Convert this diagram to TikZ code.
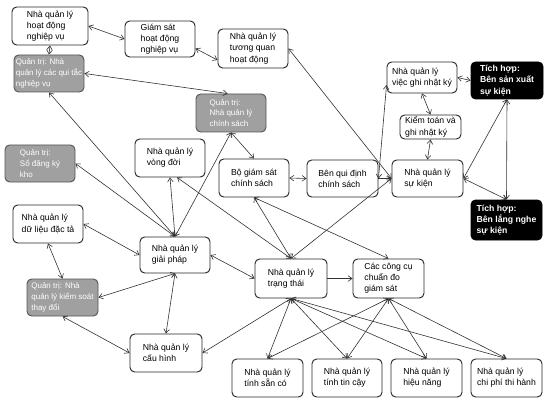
\documentclass[tikz,border=0pt]{standalone}
\usepackage{fontspec}
\setmainfont{Liberation Sans}
\usetikzlibrary{arrows.meta}
\definecolor{boxgray}{RGB}{160,160,160}
\definecolor{edgegray}{RGB}{85,85,85}
\newcommand\mybox[7]{%
  \node[#6, minimum width={(#4-#2)*0.75pt}, minimum height={(#5-#3)*0.75pt}]
    (#1) at ({(#2+#4)/2},{(#3+#5)/2}) {#7};}
\tikzset{
  base/.style={rounded corners=3.5pt, align=left, inner sep=1pt,
    font=\fontsize{6.5}{8.4}\selectfont},
  wbox/.style={base, draw=black!85, line width=0.7pt, fill=white},
  gbox/.style={base, draw=edgegray, line width=0.7pt, fill=boxgray, text=white,
    font=\fontsize{6}{8.2}\selectfont},
  kbox/.style={base, draw=black, line width=0.7pt, fill=black, text=white,
    font=\bfseries\fontsize{6.5}{8.4}\selectfont},
  tip/.tip={Straight Barb[length=3pt,width=4.2pt]},
  conn/.style={line width=0.45pt, draw=black!80, tip-tip},
  one/.style={line width=0.45pt, draw=black!80, -tip},
}
\begin{document}
\begin{tikzpicture}[x=0.75pt,y=-0.75pt]
\fill[white] (0,0) rectangle (549,406);
\useasboundingbox (0,0) rectangle (549,406);

\mybox{A}{12}{7}{88}{45}{wbox}{Nhà quản lý\\hoạt động\\nghiệp vụ}
\mybox{B}{125}{21}{195}{57}{wbox}{Giám sát\\hoạt động\\nghiệp vụ}
\mybox{C}{218}{29}{288}{68}{wbox}{Nhà quản lý\\tương quan\\hoạt động}
\mybox{G1}{14}{55}{84}{92}{gbox}{Quản trị: Nhà\\quản lý các qui tắc\\nghiệp vụ}
\mybox{G2}{196}{94}{266}{132}{gbox}{Quản trị:\\Nhà quản lý\\chính sách}
\mybox{G3}{5}{145}{75}{182}{gbox}{Quản trị:\\Sổ đăng ký\\kho}
\mybox{N}{135}{139}{205}{177}{wbox}{Nhà quản lý\\vòng đời}
\mybox{Bo}{219}{159}{289}{197}{wbox}{Bộ giám sát\\chính sách}
\mybox{Ben}{307}{160}{378}{197}{wbox}{Bên qui định\\chính sách}
\mybox{SK}{392}{160}{463}{197}{wbox}{Nhà quản lý\\sự kiện}
\mybox{GN}{387}{62}{457}{93}{wbox}{Nhà quản lý\\việc ghi nhật ký}
\mybox{KT}{400}{115}{461}{139}{wbox}{Kiểm toán và\\ghi nhật ký}
\mybox{TP}{471}{62}{543}{99}{kbox}{Tích hợp:\\Bên sản xuất\\sự kiện}
\mybox{TL}{471}{200}{542}{240}{kbox}{Tích hợp:\\Bên lắng nghe\\sự kiện}
\mybox{DL}{13}{205}{83}{243}{wbox}{Nhà quản lý\\dữ liệu đặc tả}
\mybox{GP}{140}{237}{210}{273}{wbox}{Nhà quản lý\\giải pháp}
\mybox{G4}{27}{279}{98}{316}{gbox}{Quản trị: Nhà\\quản lý kiểm soát\\thay đổi}
\mybox{TT}{255}{259}{327}{298}{wbox}{Nhà quản lý\\trạng thái}
\mybox{CC}{353}{259}{424}{298}{wbox}{Các công cụ\\chuẩn đo\\giám sát}
\mybox{CH}{130}{334}{202}{372}{wbox}{Nhà quản lý\\cấu hình}
\mybox{S1}{232}{359}{303}{397}{wbox}{Nhà quản lý\\tính sẵn có}
\mybox{S2}{312}{359}{382}{397}{wbox}{Nhà quản lý\\tính tin cậy}
\mybox{S3}{391}{359}{462}{397}{wbox}{Nhà quản lý\\hiệu năng}
\mybox{S4}{471}{359}{542}{397}{wbox}{Nhà quản lý\\chi phí thi hành}

\draw[conn] (A.east) -- (B.west);
\draw[conn] (B.-15) -- (C.198);
\draw[conn] (A.south) -- (G1.north);
\draw[conn] (G1.east) -- (G2.100);
\draw[conn] (G1.south) -- (GP.north);
\draw[conn] (G3.east) -- (GP.north);
\draw[conn] (N.south) -- (GP.north);
\draw[conn] (G2.south) -- (GP.north);
\draw[conn] (G2.south) -- (Bo.north);
\draw[conn] (Bo.east) -- (Ben.west);
\draw[conn] (C.east) -- (SK.west);
\draw[conn] (GN.192) -- (Ben.east);
\draw[one] (Ben.east) -- (SK.west);
\draw[conn] (GN.east) -- (TP.west);
\draw[conn] (GN.south) -- (KT.north);
\draw[conn] (KT.south) -- (SK.north);
\draw[conn] (SK.east) -- (TP.south);
\draw[conn] (TP.south) -- (TL.north);
\draw[conn] (SK.east) -- (TL.north);
\draw[conn] (DL.east) -- (GP.west);
\draw[conn] (DL.south) -- (G4.north);
\draw[conn] (G4.east) -- (GP.south);
\draw[conn] (G4.south) -- (CH.west);
\draw[conn] (GP.south) -- (CH.north);
\draw[conn] (GP.east) -- (TT.west);
\draw[one] (TT.east) -- (CC.west);
\draw[conn] (Bo.south) -- (TT.north);
\draw[conn] (Bo.south) -- (CC.north);
\draw[conn] (N.-70) -- (TT.north);
\draw[conn] (TT.north) -- (SK.west);
\draw[conn] (TT.south) -- (CH.east);
\draw[conn] (TT.south) -- (S1.north);
\draw[conn] (TT.south) -- (S2.north);
\draw[conn] (TT.south) -- (S3.north);
\draw[conn] (TT.south) -- (S4.north);
\draw[conn] (CC.south) -- (S1.north);
\draw[conn] (CC.south) -- (S2.north);
\draw[conn] (CC.south) -- (S3.north);
\draw[conn] (CC.south) -- (S4.north);
\end{tikzpicture}
\end{document}
